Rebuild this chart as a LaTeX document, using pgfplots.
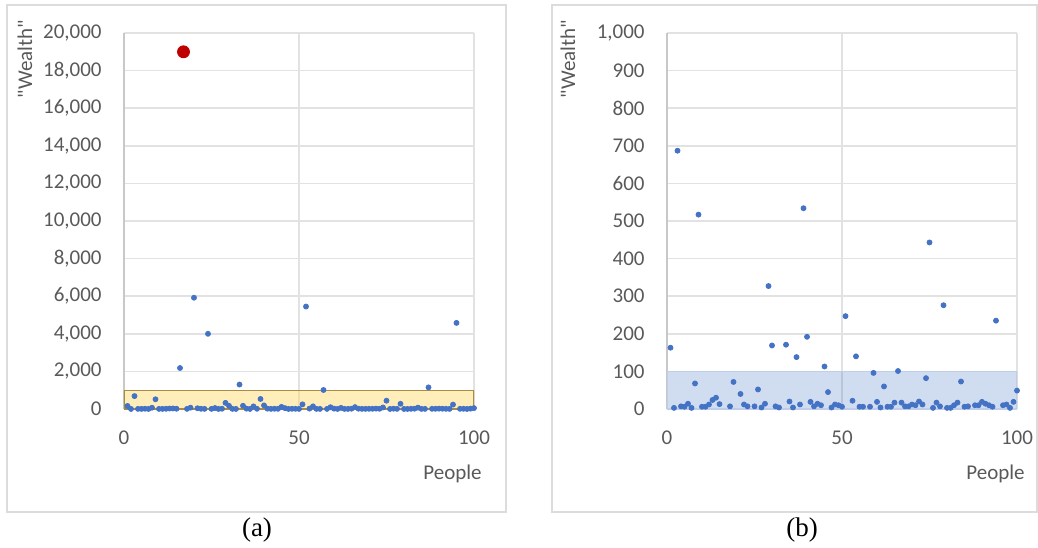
\documentclass[border=0pt]{standalone}
\usepackage{pgfplots}
\pgfplotsset{compat=1.18}
\usepackage{pgfplotstable}
\usepackage{fontspec}
\setmainfont{Carlito}[Ligatures=TeXOff]
\newfontfamily\captionfont{Liberation Serif}

\definecolor{dotblue}{HTML}{4472C4}
\definecolor{dotred}{HTML}{C00000}
\definecolor{gridgray}{HTML}{E2E2E2}
\definecolor{axisgray}{HTML}{C8C8C8}
\definecolor{labelgray}{HTML}{595959}
\definecolor{framegray}{HTML}{DCDCDC}
\definecolor{bandyellow}{HTML}{FFD966}
\definecolor{bandedge}{HTML}{A88B45}

% wealth of each of the 100 people
\pgfplotstableread{
person wealth
1 163
2 3
3 687
4 7
5 6
6 14
7 3
8 68
9 517
10 6
11 6
12 12
13 24
14 30
15 13
16 2180
17 19000
18 7
19 72
20 5920
21 40
22 12
23 7
24 4000
25 7
26 52
27 4
28 14
29 327
30 169
31 7
32 4
33 1300
34 171
35 20
36 4
37 138
38 12
39 534
40 192
41 19
42 7
43 14
44 10
45 113
46 45
47 4
48 12
49 10
50 6
51 247
52 5450
53 22
54 140
55 6
56 6
57 1010
58 6
59 96
60 19
61 4
62 60
63 6
64 6
65 17
66 101
67 17
68 7
69 7
70 12
71 10
72 20
73 12
74 82
75 443
76 3
77 17
78 7
79 276
80 3
81 3
82 10
83 17
84 73
85 6
86 7
87 1150
88 10
89 10
90 19
91 14
92 10
93 6
94 235
95 4580
96 10
97 12
98 3
99 19
100 49
}\wealthtable

\pgfplotsset{
  wealthpanel/.style={
    scale only axis,
    width=175pt, height=188pt,
    xmin=0, xmax=100, ymin=0,
    xtick={0,50,100},
    axis lines*=left,
    x axis line style={draw=none},
    y axis line style={draw=axisgray, line width=0.75pt},
    major tick length=0pt,
    grid=major,
    major grid style={draw=gridgray, line width=0.75pt},
    ticklabel style={font=\fontsize{10.5}{12}\selectfont, text=labelgray},
    /pgf/number format/assume math mode=true,
    /pgf/number format/1000 sep={,},
    scaled y ticks=false,
    xticklabel style={anchor=center, inner sep=0pt, yshift=-14.5pt},
    yticklabel style={anchor=east, inner sep=0pt, xshift=-11pt},
    xlabel={People},
    ylabel={"Wealth"},
    every axis x label/.style={at={(rel axis cs:1.0229,-0.1888)}, anchor=base east,
      inner sep=0pt, font=\fontsize{10.5}{12}\selectfont, text=labelgray},
    every axis y label/.style={at={(rel axis cs:-0.2829,0.9309)}, anchor=center,
      rotate=90, inner sep=0pt, font=\fontsize{10.5}{12}\selectfont, text=labelgray},
  },
  dots/.style={only marks, mark=*, mark size=1.25pt, color=dotblue,
    mark options={solid, draw=dotblue, fill=dotblue}},
}

\begin{document}
\begin{tikzpicture}
\useasboundingbox (0,0) rectangle (519pt,273.5pt);

% panel frames and captions
\draw[framegray, line width=0.75pt] (3.5pt,17.5pt) rectangle (253pt,271pt);
\draw[framegray, line width=0.75pt] (276pt,17.5pt) rectangle (518.6pt,271pt);
\node[font=\captionfont\fontsize{13.5}{15}\selectfont] at (128.5pt,8.5pt) {(a)};
\node[font=\captionfont\fontsize{13.5}{15}\selectfont] at (401pt,8.5pt) {(b)};

% (a) full range
\begin{axis}[wealthpanel, at={(62pt,69pt)}, anchor=south west,
  ymax=20000, ytick distance=2000]
  \addplot[dots] table[x=person, y=wealth] {\wealthtable};
  \addplot[only marks, mark=*, mark size=3pt, color=dotred,
    mark options={solid, draw=dotred, fill=dotred}]
    coordinates {(17,19000)};
  \addplot[draw=bandedge, line width=0.6pt, fill=bandyellow, fill opacity=0.45]
    coordinates {(0,0) (0,1000) (100,1000) (100,0) (0,0)};
\end{axis}

% (b) zoom on the range below 1,000
\begin{axis}[wealthpanel, at={(333.5pt,69pt)}, anchor=south west,
  ymax=1000, ytick distance=100]
  \addplot[draw=dotblue!35, line width=0.6pt, fill=dotblue, fill opacity=0.25]
    coordinates {(0,0) (0,100) (100,100) (100,0) (0,0)};
  \addplot[dots, restrict y to domain=0:1000] table[x=person, y=wealth] {\wealthtable};
\end{axis}
\end{tikzpicture}
\end{document}
